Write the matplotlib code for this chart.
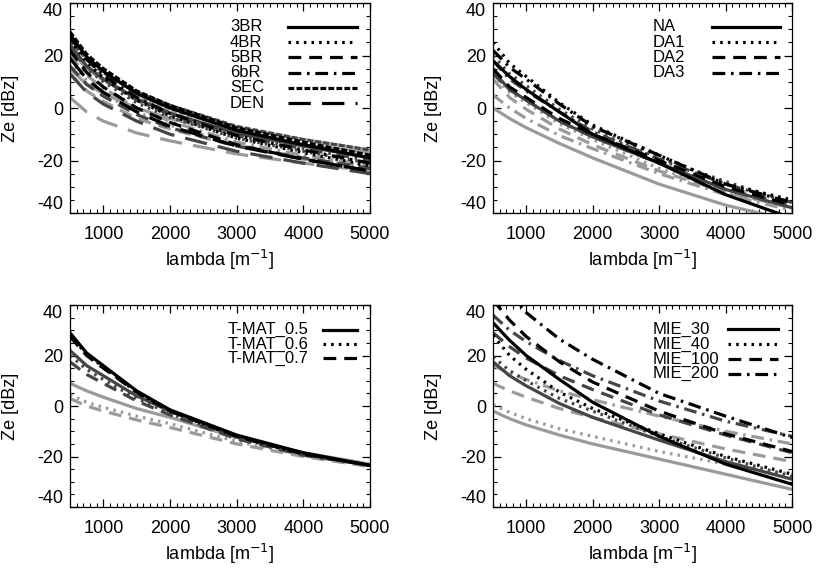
import numpy as np
import matplotlib
matplotlib.use("Agg")
from matplotlib import pyplot as plt
from matplotlib.ticker import MultipleLocator

plt.rcParams['font.family'] = ['Liberation Sans', 'DejaVu Sans']
plt.rcParams['axes.unicode_minus'] = False

lam = [500, 750, 1000, 1500, 2000, 3000, 4000, 5000]
shades = ['#000000', '#454545', '#9a9a9a']   # black, dark grey, light grey

# panel 1 : each list = [black, dark grey, light grey]
br3 = [[28, 19.5, 14, 5.5, 0, -8.5, -14, -19],
       [24, 16, 11, 3.5, -2, -9.5, -14.5, -19],
       [15, 9, 5.5, 0, -4, -10, -14, -17]]
br4 = [[26, 17.5, 11.5, 3, -3, -11.5, -17, -22],
       [23, 15, 10, 2, -3.5, -11.5, -16.5, -21],
       [18, 10.5, 5.5, -1.5, -6.5, -14, -19, -23]]
br5 = [[22, 13.5, 8, 0, -5.5, -14, -19.5, -24],
       [16, 9, 4.5, -2.5, -7.5, -14.5, -19, -23],
       [13, 6.5, 2.5, -4, -8, -14.5, -19.5, -22]]
br6 = [[27, 18.5, 12.5, 4, -2, -10.5, -16, -21],
       [24, 16, 11, 3, -2.5, -10.5, -15.5, -20],
       [20, 12.5, 7.5, 0, -5, -13, -18, -22]]
sec = [[29, 20.5, 15, 6.5, 1, -7.5, -13, -18],
       [26, 18.5, 13.5, 6, 1, -7, -12, -16],
       [22, 15, 10.5, 4, -1, -7.5, -12, -16]]
den = [[19, 11, 6, -1.5, -7, -14.5, -19.5, -24],
       [13, 6, 1.5, -5, -10, -16.5, -21, -25],
       [4, -1.5, -5, -9.5, -12.5, -17.5, -21, -24]]

# panel 2
na = [[18, 12, 7, -1.5, -10, -21, -33, -42],
      [14, 7, 3, -5, -11, -21, -31, -38],
      [0, -4, -7.5, -13.5, -19, -29, -37, -43]]
da1 = [[25, 17, 12, 2, -6.5, -18, -29, -35],
       [20, 13, 8.5, -0.5, -8, -19, -28, -36],
       [13, 6, 2, -6, -12, -23, -32, -38]]
da2 = [[15, 8, 4, -4, -10, -20, -30, -37],
       [13, 7, 3, -5, -11, -21, -31, -37],
       [11, 4, -0.5, -8, -14, -24, -32, -38]]
da3 = [[22, 15.5, 11, 1.5, -7, -18, -29, -36],
       [18, 11, 6.5, -1.5, -9, -19.5, -29, -36],
       [5, 0, -4, -10.5, -15.5, -25, -33, -39]]

# panel 3
tm05 = [[29, 21, 16, 6, -1.5, -11.5, -18.5, -23.5],
        [22, 16, 12, 4, -2, -12, -19, -23.5],
        [9, 6, 3.5, -1, -4.5, -12.5, -18.5, -23]]
tm06 = [[28, 20.5, 15.5, 5.5, -2, -12, -19, -23.5],
        [20, 14.5, 10.5, 3, -3, -12.5, -19, -23.5],
        [4.5, 1.5, -0.5, -4, -7, -14, -19.5, -23.5]]
tm07 = [[27.5, 20, 15, 5.5, -2, -12, -19, -23.5],
        [17.5, 12.5, 9, 2, -3.5, -13, -19.5, -23.5],
        [3, 0, -2, -5.5, -8.5, -15, -20, -24]]

# panel 4
mie30 = [[33, 26, 20, 10.5, 1.5, -12, -23, -31],
         [17.5, 12, 8, 1, -4.5, -13.5, -22, -29],
         [-2, -5, -7.5, -11.5, -15, -21, -27, -33]]
mie40 = [[28, 20, 14.5, 5.5, -1, -11, -20, -27],
         [19.5, 14, 10, 3, -2, -12, -20.5, -28],
         [0.5, -2.5, -5, -9, -12, -18, -23, -27]]
mie100 = [[42, 34, 27.5, 17.5, 9.5, -2, -11, -18],
          [29, 23.5, 19, 12, 6.5, -3.5, -11.5, -18.5],
          [9, 6, 3.5, -1, -4.5, -11, -17, -22]]
mie200 = [[54, 45, 37, 26.5, 18.5, 5, -4, -12.5],
          [36, 30, 25.5, 18, 12, 2, -6, -12],
          [16, 13, 10.5, 6, 2.5, -4, -10, -15]]

ls_solid = '-'
ls_dot = (0, (0.8, 1.6))
ls_dash = (0, (4, 2.5))
ls_dashdot = (0, (4, 1.8, 0.8, 1.8))
ls_short = (0, (1.8, 0.7))
ls_long = (0, (7, 3.5))

# axes rect, series, legend text x, legend line x0/x1, legend rows top / step
panels = [
    ([0.0858, 0.6276, 0.3676, 0.3671],
     [('3BR', br3, ls_solid), ('4BR', br4, ls_dot), ('5BR', br5, ls_dash),
      ('6bR', br6, ls_dashdot), ('SEC', sec, ls_short), ('DEN', den, ls_long)],
     0.533, 0.727, 0.957, 0.886, 0.0725),
    ([0.6042, 0.6276, 0.3664, 0.3671],
     [('NA', na, ls_solid), ('DA1', da1, ls_dot), ('DA2', da2, ls_dash),
      ('DA3', da3, ls_dashdot)],
     0.535, 0.732, 0.960, 0.886, 0.0725),
    ([0.0858, 0.1136, 0.3676, 0.3531],
     [('T-MAT_0.5', tm05, ls_solid), ('T-MAT_0.6', tm06, ls_dot),
      ('T-MAT_0.7', tm07, ls_dash)],
     0.527, 0.843, 0.957, 0.878, 0.071),
    ([0.6042, 0.1136, 0.3664, 0.3531],
     [('MIE_30', mie30, ls_solid), ('MIE_40', mie40, ls_dot),
      ('MIE_100', mie100, ls_dash), ('MIE_200', mie200, ls_dashdot)],
     0.535, 0.786, 0.953, 0.880, 0.0735),
]

fig = plt.figure(figsize=(8.16, 5.72), dpi=100)
lw = 2.3

for rect, series, tx, lx0, lx1, ty, dy in panels:
    ax = fig.add_axes(rect)
    # light grey first, black on top
    for shade in [2, 1, 0]:
        for name, vals, ls in series:
            ax.plot(lam, vals[shade], color=shades[shade], linestyle=ls,
                    linewidth=lw, dash_capstyle='butt')
    ax.set_xlim(500, 5000)
    ax.set_ylim(-40, 40)
    ax.set_xticks([1000, 2000, 3000, 4000, 5000])
    ax.set_yticks([-40, -20, 0, 20, 40])
    ax.xaxis.set_minor_locator(MultipleLocator(100))
    ax.yaxis.set_minor_locator(MultipleLocator(5))
    ax.tick_params(which='both', direction='in', top=True, right=True, labelsize=13)
    ax.tick_params(axis='x', pad=9)
    ax.tick_params(axis='y', pad=5)
    ax.tick_params(which='major', length=6, width=0.9)
    ax.tick_params(which='minor', length=3, width=0.8)
    for s in ax.spines.values():
        s.set_linewidth(0.9)
    ylabs = ax.get_yticklabels()
    ylabs[0].set_va('bottom')
    ylabs[-1].set_va('top')
    ax.set_xlabel('lambda [m$^{\\mathsf{-1}}$]', fontsize=13, labelpad=4)
    ax.set_ylabel('Ze [dBz]', fontsize=13, labelpad=13)

    # legend, IDL style: labels on the left, line samples on the right
    for i, (name, vals, ls) in enumerate(series):
        yy = ty - i * dy
        ax.text(tx, yy, name, transform=ax.transAxes, fontsize=12,
                ha='left', va='center')
        ax.plot([lx0, lx1], [yy, yy], transform=ax.transAxes, color='k',
                linestyle=ls, linewidth=lw, dash_capstyle='butt')

fig.savefig('out.png', dpi=100)
